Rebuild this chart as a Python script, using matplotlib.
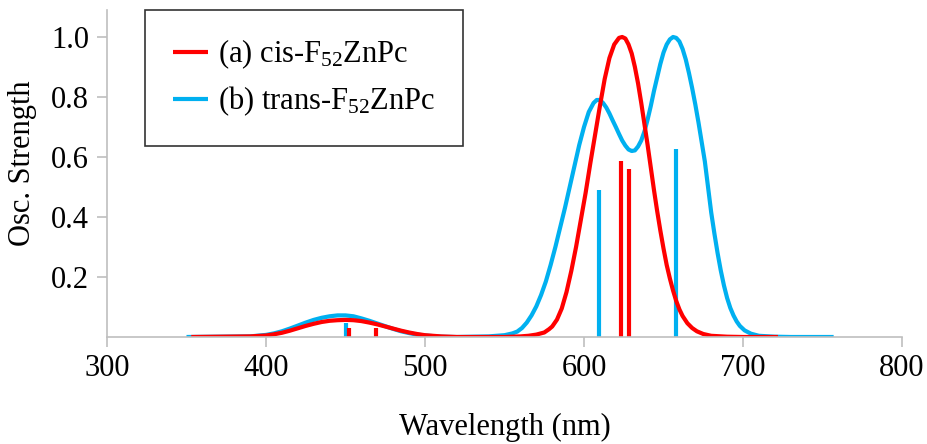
import matplotlib
matplotlib.use("Agg")
import matplotlib.pyplot as plt

plt.rcParams['font.family'] = ['Liberation Serif', 'DejaVu Serif']
plt.rcParams['mathtext.fontset'] = 'custom'
plt.rcParams['mathtext.rm'] = 'Liberation Serif'
plt.rcParams['mathtext.it'] = 'Liberation Serif:italic'

# cis-F52ZnPc spectrum
cis_wl = [353, 390, 400, 405, 410, 415, 420, 425, 430, 435, 440, 445, 450, 455, 460,
          465, 470, 475, 480, 485, 490, 495, 500, 510, 520, 550, 560, 565, 570, 575,
          578, 580, 583, 586, 589, 592, 595, 598, 601, 604, 607, 610, 613, 616, 619,
          622, 624, 626, 628, 630, 632, 634, 636, 638, 640, 642, 644, 646, 648, 650,
          652, 654, 656, 658, 660, 662, 665, 668, 671, 675, 680, 690, 700, 722]
cis_osc = [0, 0.002, 0.005, 0.009, 0.014, 0.021, 0.029, 0.037, 0.044, 0.05, 0.054,
           0.056, 0.057, 0.056, 0.053, 0.048, 0.042, 0.035, 0.028, 0.021, 0.015, 0.01,
           0.006, 0.002, 0, 0, 0.002, 0.004, 0.008, 0.015, 0.026, 0.035, 0.058, 0.095,
           0.15, 0.22, 0.30, 0.39, 0.48, 0.58, 0.675, 0.77, 0.86, 0.93, 0.975, 0.997,
           1.0, 0.995, 0.975, 0.945, 0.90, 0.845, 0.78, 0.71, 0.64, 0.565, 0.49, 0.42,
           0.355, 0.295, 0.24, 0.195, 0.155, 0.12, 0.092, 0.07, 0.046, 0.03, 0.019,
           0.01, 0.004, 0.001, 0, 0]

# trans-F52ZnPc spectrum
trans_wl = [350, 390, 400, 405, 410, 415, 420, 425, 430, 435, 440, 445, 450, 455, 460,
            465, 470, 475, 480, 485, 490, 495, 500, 510, 520, 540, 550, 555, 558, 561,
            564, 567, 570, 573, 576, 579, 582, 585, 588, 591, 594, 597, 600, 603, 606,
            608, 610, 612, 614, 616, 618, 620, 622, 624, 626, 628, 630, 632, 634, 636,
            638, 640, 642, 644, 646, 648, 650, 652, 654, 656, 658, 660, 662, 664, 666,
            668, 670, 672, 674, 676, 678, 680, 682, 684, 686, 688, 690, 692, 694, 696,
            698, 701, 705, 710, 720, 730, 757]
trans_osc = [0, 0.002, 0.007, 0.012, 0.019, 0.028, 0.038, 0.048, 0.057, 0.064, 0.069,
             0.072, 0.072, 0.069, 0.062, 0.054, 0.045, 0.036, 0.027, 0.019, 0.013,
             0.008, 0.005, 0.001, 0, 0.002, 0.006, 0.012, 0.018, 0.03, 0.048, 0.072,
             0.102, 0.14, 0.185, 0.24, 0.30, 0.365, 0.43, 0.50, 0.57, 0.64, 0.70, 0.75,
             0.78, 0.79, 0.79, 0.78, 0.765, 0.745, 0.722, 0.70, 0.677, 0.655, 0.638,
             0.625, 0.62, 0.622, 0.635, 0.655, 0.685, 0.725, 0.77, 0.82, 0.865, 0.91,
             0.948, 0.975, 0.992, 1.0, 0.997, 0.985, 0.96, 0.925, 0.88, 0.83, 0.775,
             0.715, 0.65, 0.585, 0.50, 0.415, 0.345, 0.28, 0.222, 0.172, 0.13, 0.097,
             0.072, 0.052, 0.037, 0.022, 0.011, 0.004, 0.001, 0, 0]

# transitions (sticks)
cis_stick_wl = [452, 469, 623, 628]
cis_stick_osc = [0.03, 0.03, 0.585, 0.56]
trans_stick_wl = [450, 609.5, 658]
trans_stick_osc = [0.045, 0.49, 0.625]

red = '#FF0000'
blue = '#00B0F0'
grey = '#BFBFBF'

fig = plt.figure(figsize=(9.28, 4.44), dpi=100)
ax = fig.add_axes([0.1153, 0.2410, 0.8567, 0.7365])

ax.vlines(trans_stick_wl, 0, trans_stick_osc, color=blue, lw=3)
ax.vlines(cis_stick_wl, 0, cis_stick_osc, color=red, lw=3)
ax.plot(trans_wl, trans_osc, color=blue, lw=3, solid_capstyle='butt',
        solid_joinstyle='round', label=r'(b) trans-F$_{52}$ZnPc')
ax.plot(cis_wl, cis_osc, color=red, lw=3, solid_capstyle='butt',
        solid_joinstyle='round', label=r'(a) cis-F$_{52}$ZnPc')

ax.set_xlim(300, 800)
ax.set_ylim(0, 1.09)
ax.set_xticks([300, 400, 500, 600, 700, 800])
ax.set_yticks([0.2, 0.4, 0.6, 0.8, 1.0])
ax.set_yticklabels(['0.2', '0.4', '0.6', '0.8', '1.0'])

for s in ['top', 'right']:
    ax.spines[s].set_visible(False)
for s in ['left', 'bottom']:
    ax.spines[s].set_color(grey)
    ax.spines[s].set_linewidth(1.2)
ax.tick_params(axis='both', colors=grey, labelcolor='black', labelsize=22,
               length=7, width=1.2)
ax.tick_params(axis='x', pad=5)
ax.tick_params(axis='y', pad=6)

ax.set_xlabel('Wavelength (nm)', fontsize=22)
ax.xaxis.set_label_coords(0.5, -0.232)
ax.set_ylabel('Osc. Strength', fontsize=22)
ax.yaxis.set_label_coords(-0.088, 0.53)

h, l = ax.get_legend_handles_labels()
leg = ax.legend(h[::-1], l[::-1], loc='upper left', bbox_to_anchor=(0.048, 1.0),
                borderaxespad=0, fancybox=False, fontsize=22, handlelength=1.15,
                handletextpad=0.35, borderpad=0.9, labelspacing=0.45)
leg.get_frame().set_edgecolor('black')
leg.get_frame().set_linewidth(1.2)

fig.savefig('out.png', dpi=100)
